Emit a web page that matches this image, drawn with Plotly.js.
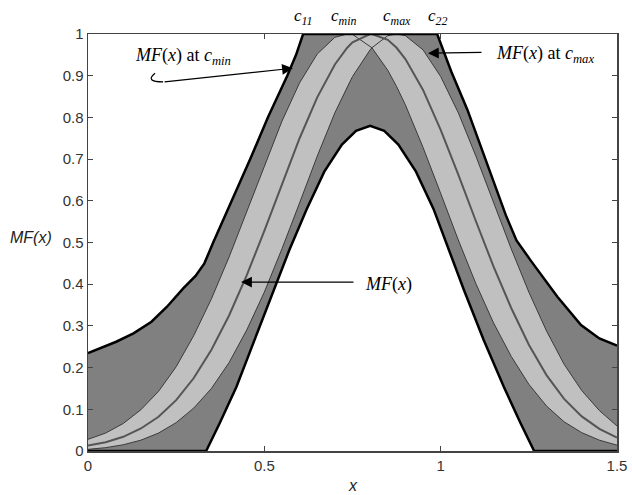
<!DOCTYPE html>
<html><head><meta charset="utf-8">
<script src="https://cdn.plot.ly/plotly-3.0.1.min.js"></script>
<style>html,body{margin:0;padding:0;background:#fff}#chart{width:632px;height:495px}</style>
</head><body><div id="chart"></div>
<script>
// ---- data ----
const xGrid = [0,0.05,0.1,0.15,0.2,0.25,0.3,0.35,0.4,0.45,0.5,0.55,0.6,0.65,0.7,0.735,0.75,0.8,0.805,0.85,0.875,0.9,0.95,1,1.05,1.1,1.15,1.2,1.25,1.3,1.35,1.4,1.45,1.5];
const mfAtCmin = [0.028,0.043,0.066,0.099,0.143,0.202,0.277,0.365,0.465,0.574,0.685,0.791,0.883,0.952,0.992,1,0.999,0.971,0.967,0.913,0.874,0.830,0.728,0.618,0.506,0.401,0.307,0.227,0.160,0.108,0.070,0.044,0.026,0.014];
const mfAtCmax = [0.004,0.008,0.015,0.026,0.043,0.068,0.103,0.150,0.212,0.290,0.381,0.485,0.595,0.707,0.811,0.874,0.898,0.962,0.967,0.996,1,0.996,0.962,0.898,0.811,0.707,0.595,0.485,0.381,0.288,0.208,0.145,0.097,0.060];
const mfNominal = [0.013,0.021,0.034,0.054,0.082,0.122,0.175,0.243,0.325,0.421,0.528,0.640,0.750,0.848,0.927,0.967,0.980,1.0,1,0.986,0.967,0.940,0.866,0.770,0.663,0.551,0.442,0.343,0.255,0.182,0.125,0.083,0.053,0.032];
const cMin = 0.735, cMax = 0.875, cMid = 0.805, c11 = 0.61, c22 = 0.99;

const outerUpperX = [0,0.034,0.08,0.129,0.18,0.224,0.27,0.305,0.33,0.355,0.41,0.46,0.51,0.565,0.59,0.61,0.99,1.03,1.076,1.14,1.185,1.215,1.256,1.331,1.398,1.45,1.5];
const outerUpperY = [0.235,0.247,0.262,0.282,0.31,0.346,0.39,0.42,0.45,0.5,0.605,0.7,0.8,0.9,0.95,1,1,0.91,0.818,0.67,0.565,0.505,0.456,0.37,0.302,0.27,0.253];
const outerLowerX = [0,0.335,0.373,0.421,0.472,0.52,0.57,0.62,0.67,0.72,0.76,0.8,0.84,0.88,0.93,0.98,1.019,1.066,1.122,1.179,1.227,1.265,1.5];
const outerLowerY = [0,0,0.066,0.154,0.266,0.37,0.48,0.58,0.67,0.735,0.768,0.78,0.768,0.735,0.67,0.58,0.49,0.386,0.266,0.154,0.066,0,0];

const xTickVals = [0,0.5,1,1.5];
const xTickText = ['0','0.5','1','1.5'];
const yTickVals = [0,0.1,0.2,0.3,0.4,0.5,0.6,0.7,0.8,0.9,1];
const yTickText = ['0','0.1','0.2','0.3','0.4','0.5','0.6','0.7','0.8','0.9','1'];

// ---- derived envelopes of the inner band ----
const innerUpper = xGrid.map((x,i)=> x<=cMin ? mfAtCmin[i] : (x>=cMax ? mfAtCmax[i] : 1));
const innerLower = xGrid.map((x,i)=> x<=cMid ? mfAtCmax[i] : mfAtCmin[i]);

const rev = a => a.slice().reverse();
const traces = [
  {x: outerUpperX.concat(rev(outerLowerX)), y: outerUpperY.concat(rev(outerLowerY)),
   mode:'lines', fill:'toself', fillcolor:'#808080', line:{width:0}, hoverinfo:'skip'},
  {x: xGrid.concat(rev(xGrid)), y: innerUpper.concat(rev(innerLower)),
   mode:'lines', fill:'toself', fillcolor:'#c0c0c0', line:{width:0}, hoverinfo:'skip'},
  {x: xGrid, y: mfAtCmin, mode:'lines', line:{color:'#3a3a3a', width:1}},
  {x: xGrid, y: mfAtCmax, mode:'lines', line:{color:'#3a3a3a', width:1}},
  {x: xGrid, y: mfNominal, mode:'lines', line:{color:'#555555', width:2}},
  {x: outerUpperX, y: outerUpperY, mode:'lines', line:{color:'#000', width:2.5}, cliponaxis:false},
  {x: outerLowerX, y: outerLowerY, mode:'lines', line:{color:'#000', width:2.5}, cliponaxis:false}
];

const tickFont = {family:'Liberation Sans, Arial, sans-serif', size:15, color:'#333'};
const serif = {family:'Liberation Serif, Times New Roman, serif', size:18, color:'#000'};
const topFont = {family:'Liberation Serif, Times New Roman, serif', size:17, color:'#000'};

const layout = {
  width:632, height:495,
  margin:{l:88, r:15, t:34, b:44},
  paper_bgcolor:'#fff', plot_bgcolor:'#fff',
  showlegend:false,
  xaxis:{range:[0,1.5], tickvals:xTickVals, ticktext:xTickText, ticks:'inside', ticklen:5,
         tickcolor:'#444', showline:true, linecolor:'#444', linewidth:1.5, mirror:'ticks',
         showgrid:false, zeroline:false, tickfont:tickFont, fixedrange:true},
  yaxis:{range:[0,1], tickvals:yTickVals, ticktext:yTickText, ticks:'inside', ticklen:5,
         tickcolor:'#444', showline:true, linecolor:'#444', linewidth:1.5, mirror:'ticks',
         showgrid:false, zeroline:false, tickfont:tickFont, fixedrange:true},
  shapes:[
    {type:'path', xref:'x', yref:'y', path:'M 0.19,0.906 Q 0.160,0.885 0.213,0.885',
     line:{color:'#000', width:1.2}}
  ],
  annotations:[
    {xref:'paper', yref:'paper', x:-0.108, y:0.513, xanchor:'center', yanchor:'middle',
     text:'<i>MF(x)</i>', showarrow:false,
     font:{family:'Liberation Sans, Arial, sans-serif', size:16, color:'#222'}},
    {xref:'paper', yref:'paper', x:0.5, y:-0.082, xanchor:'center', yanchor:'middle',
     text:'<i>x</i>', showarrow:false,
     font:{family:'Liberation Sans, Arial, sans-serif', size:16, color:'#222'}},
    {xref:'x', yref:'paper', x:c11, y:1.041, xanchor:'center', yanchor:'middle', text:'<i>c</i><sub><i>11</i></sub>', showarrow:false, font:topFont},
    {xref:'x', yref:'paper', x:cMin-0.01, y:1.041, xanchor:'center', yanchor:'middle', text:'<i>c</i><sub><i>min</i></sub>', showarrow:false, font:topFont},
    {xref:'x', yref:'paper', x:cMax, y:1.041, xanchor:'center', yanchor:'middle', text:'<i>c</i><sub><i>max</i></sub>', showarrow:false, font:topFont},
    {xref:'x', yref:'paper', x:c22, y:1.041, xanchor:'center', yanchor:'middle', text:'<i>c</i><sub><i>22</i></sub>', showarrow:false, font:topFont},
    // labels
    {xref:'x', yref:'y', x:0.269, y:0.945, xanchor:'center', yanchor:'middle', text:'<i>MF</i>(<i>x</i>) at <i>c</i><sub><i>min</i></sub>', showarrow:false, font:serif},
    {xref:'x', yref:'y', x:1.296, y:0.95, xanchor:'center', yanchor:'middle', text:'<i>MF</i>(<i>x</i>) at <i>c</i><sub><i>max</i></sub>', showarrow:false, font:serif},
    {xref:'x', yref:'y', x:0.853, y:0.40, xanchor:'center', yanchor:'middle', text:'<i>MF</i>(<i>x</i>)', showarrow:false, font:serif},
    // arrows
    {xref:'x', yref:'y', axref:'x', ayref:'y', x:0.581, y:0.918, ax:0.213, ay:0.885, text:'',
     showarrow:true, arrowhead:2, arrowsize:1.8, arrowwidth:1.2, arrowcolor:'#000'},
    {xref:'x', yref:'y', axref:'x', ayref:'y', x:0.964, y:0.954, ax:1.12, ay:0.956, text:'',
     showarrow:true, arrowhead:2, arrowsize:1.8, arrowwidth:1.2, arrowcolor:'#000'},
    {xref:'x', yref:'y', axref:'x', ayref:'y', x:0.434, y:0.405, ax:0.757, ay:0.405, text:'',
     showarrow:true, arrowhead:2, arrowsize:1.8, arrowwidth:1.2, arrowcolor:'#000'}
  ]
};

Plotly.newPlot('chart', traces, layout, {displayModeBar:false, staticPlot:true});
</script>
</body></html>
